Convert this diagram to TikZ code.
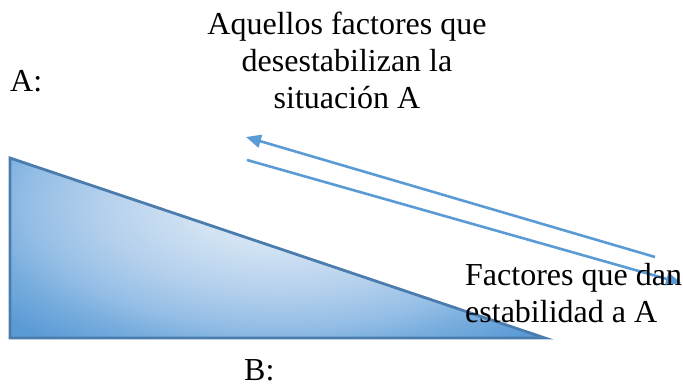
\documentclass[tikz,border=0pt]{standalone}
\usepackage{fontspec}
\setmainfont{Liberation Serif}
\usetikzlibrary{arrows.meta}
\definecolor{accblue}{HTML}{5B9BD5}
\definecolor{lightblue}{HTML}{DAE7F5}
\definecolor{glowa}{HTML}{D2E3F3}
\definecolor{glowb}{HTML}{B6D1ED}
\definecolor{glowc}{HTML}{96BFE6}
\definecolor{glowd}{HTML}{78ADDE}
\definecolor{edgeblue}{HTML}{4A7DAD}
\pgfdeclareradialshading{triglow}{\pgfpoint{0bp}{0bp}}{%
  color(0bp)=(lightblue); color(14bp)=(glowa); color(28bp)=(glowb);
  color(40bp)=(glowc); color(48bp)=(glowd); color(58bp)=(accblue); color(70bp)=(accblue)}
\tikzset{
  lbl/.style={inner sep=0pt, font=\fontsize{32}{37}\selectfont},
  flow/.style={draw=accblue, line width=2.6pt, -{Triangle[length=15pt,width=13pt]}},
  wedge/.style={draw=edgeblue, line width=2.8pt, line join=miter}
}
\begin{document}
\begin{tikzpicture}[x=1pt,y=-1pt]
\useasboundingbox (0,0) rectangle (683,387);
% triangle
\coordinate (t1) at (10,158);
\coordinate (t2) at (10,338);
\coordinate (t3) at (545,338);
\coordinate (gc) at (280,205);
\begin{scope}
  \clip (t1) -- (t2) -- (t3) -- cycle;
  \begin{scope}[transform canvas={shift={(gc)}, xscale=6.2, yscale=3.0}]
    \pgftext{\pgfuseshading{triglow}}
  \end{scope}
\end{scope}
\draw[wedge] (t1) -- (t2) -- (t3) -- cycle;
% arrows
\coordinate (u1) at (655,257);
\coordinate (u2) at (246,137);
\coordinate (l1) at (247,160);
\coordinate (l2) at (681,283);
\draw[flow] (u1) -- (u2);
\draw[flow] (l1) -- (l2);
% texts
\node[lbl, anchor=base west] (A) at (10,92) {A:};
\node[lbl, anchor=base west] (B) at (244,381) {B:};
\node[lbl, anchor=north, align=center] (top) at (347,12) {Aquellos factores que\\desestabilizan la\\situación A};
\node[lbl, anchor=north west, align=left] (right) at (465,263) {Factores que dan\\estabilidad a A};
\end{tikzpicture}
\end{document}
